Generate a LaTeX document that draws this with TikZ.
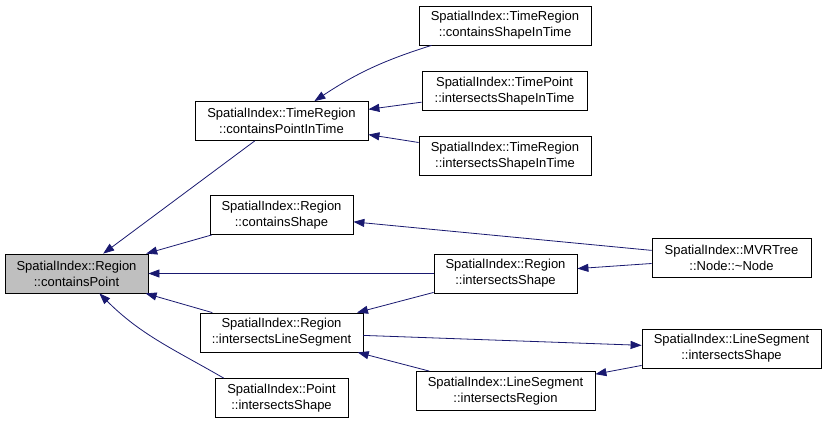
\documentclass[tikz,border=0pt]{standalone}
\usepackage{fontspec}
\setmainfont{Liberation Sans}
\definecolor{edgeblue}{RGB}{25,25,112}
\definecolor{rootgray}{RGB}{191,191,191}
\usetikzlibrary{arrows.meta}

\tikzset{
  fnbox/.style={draw=black,line width=0.8pt,align=center,inner sep=0pt,
    minimum height=39pt,font=\fontsize{13}{16}\selectfont},
  callarrow/.style={draw=edgeblue,line width=0.8pt,
    -{Triangle[length=11pt,width=8pt]}},
}

\begin{document}
\begin{tikzpicture}[x=1pt,y=-1pt]
  \useasboundingbox (0,0) rectangle (827,424);

  % the function itself
  \node[fnbox,fill=rootgray,minimum width=143pt] (cP) at (76.5,273.5) {SpatialIndex::Region\\::containsPoint};

  % direct callers
  \node[fnbox,minimum width=173pt] (cPIT) at (281.5,121) {SpatialIndex::TimeRegion\\::containsPointInTime};
  \node[fnbox,minimum width=143pt] (cS) at (281.5,215) {SpatialIndex::Region\\::containsShape};
  \node[fnbox,minimum width=143pt] (iS) at (505.5,273.5) {SpatialIndex::Region\\::intersectsShape};
  \node[fnbox,minimum width=163pt] (iLS) at (281.5,332.5) {SpatialIndex::Region\\::intersectsLineSegment};
  \node[fnbox,minimum width=133pt] (PiS) at (281.5,398) {SpatialIndex::Point\\::intersectsShape};

  % further callers
  \node[fnbox,minimum width=172pt] (cSIT) at (505,25.5) {SpatialIndex::TimeRegion\\::containsShapeInTime};
  \node[fnbox,minimum width=165pt] (TPiSIT) at (504.5,91) {SpatialIndex::TimePoint\\::intersectsShapeInTime};
  \node[fnbox,minimum width=172pt] (TRiSIT) at (505,156) {SpatialIndex::TimeRegion\\::intersectsShapeInTime};
  \node[fnbox,minimum width=159pt] (dNode) at (731.5,258) {SpatialIndex::MVRTree\\::Node::\textasciitilde Node};
  \node[fnbox,minimum width=179pt] (LSiS) at (731.5,348.5) {SpatialIndex::LineSegment\\::intersectsShape};
  \node[fnbox,minimum width=179pt] (LSiR) at (505.5,391) {SpatialIndex::LineSegment\\::intersectsRegion};

  % calls
  \draw[callarrow] (cPIT) -- (cP);
  \draw[callarrow] (cS) -- (cP);
  \draw[callarrow] (iS) -- (cP);
  \draw[callarrow] (iLS) -- (cP);
  \draw[callarrow] (PiS.161) to[out=150,in=-45] (cP.-41);
  \draw[callarrow] (cSIT) to[bend right=8] (cPIT);
  \draw[callarrow] (TPiSIT) -- (cPIT);
  \draw[callarrow] (TRiSIT) -- (cPIT);
  \draw[callarrow] (dNode) -- (cS);
  \draw[callarrow] (dNode) -- (iS);
  \draw[callarrow] (iS) -- (iLS);
  \draw[callarrow] (iLS) -- (LSiS);
  \draw[callarrow] (LSiS) -- (LSiR);
  \draw[callarrow] (LSiR) -- (iLS);
\end{tikzpicture}
\end{document}
